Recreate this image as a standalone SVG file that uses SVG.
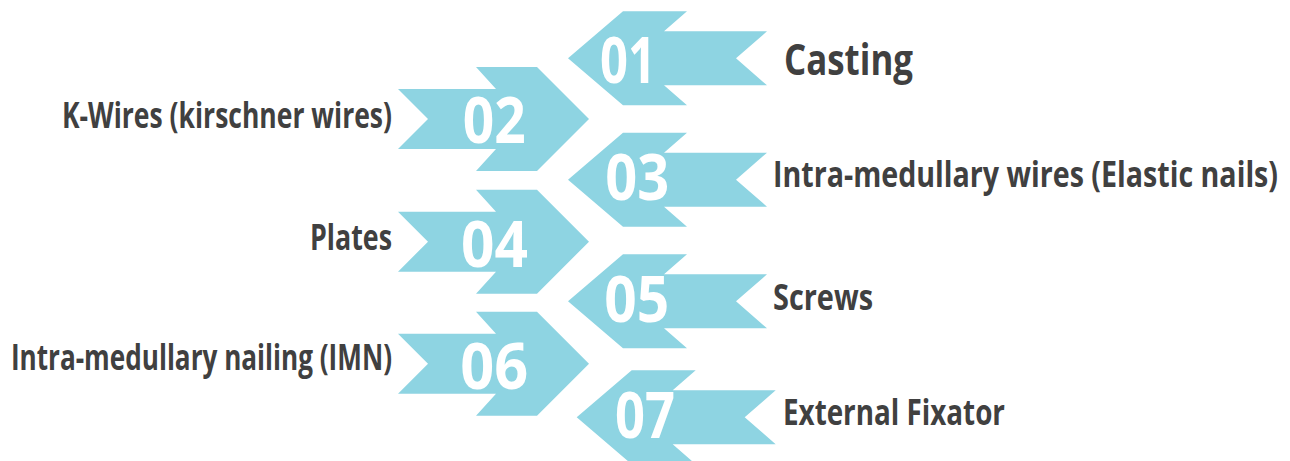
<svg xmlns="http://www.w3.org/2000/svg" width="1290" height="461" viewBox="0 0 1290 461">
  <style>
    .band { fill: #8ED4E2; }
    .num { font-family: "Open Sans", "Liberation Sans", sans-serif; font-weight: 700; font-size: 65px; fill: #FFFFFF; text-anchor: middle; }
    .label { font-family: "Open Sans", "Liberation Sans", sans-serif; font-weight: 700; font-size: 36px; fill: #404040; }
    .label.big { font-size: 43px; }
    .label.end { text-anchor: end; }
  </style>
  <defs>
    <!-- chevron pointing left, tip at origin -->
    <path id="arrow-left" d="M0,0 L55,-47 L119,-47 L96,-27 L199,-27 L168,0 L199,27 L96,27 L119,47 L55,47 Z"/>
    <!-- chevron pointing right, tip at origin -->
    <path id="arrow-right" d="M0,0 L-52,-52 L-113,-52 L-93,-30 L-191,-30 L-161,0 L-191,30 L-93,30 L-113,52 L-52,52 Z"/>
  </defs>

  <g id="connectors"/>

  <!-- texts are narrowed with a horizontal scale to get a condensed face -->
  <g id="step-01">
    <use href="#arrow-left" class="band" transform="translate(568,58.3)"/>
    <text class="num" transform="translate(628,83.3) scale(0.85,1)" textLength="65.9" lengthAdjust="spacingAndGlyphs">01</text>
    <text class="label big" transform="translate(784,75) scale(0.818,1)" textLength="157.7" lengthAdjust="spacingAndGlyphs">Casting</text>
  </g>

  <g id="step-02">
    <use href="#arrow-right" class="band" transform="translate(589,119)"/>
    <text class="num" transform="translate(494.3,143.3) scale(0.85,1)" textLength="74.1" lengthAdjust="spacingAndGlyphs">02</text>
    <text class="label end" transform="translate(392,127.5) scale(0.745,1)" textLength="443" lengthAdjust="spacingAndGlyphs">K-Wires (kirschner wires)</text>
  </g>

  <g id="step-03">
    <use href="#arrow-left" class="band" transform="translate(568,179.7)"/>
    <text class="num" transform="translate(637.2,200) scale(0.85,1)" textLength="75.3" lengthAdjust="spacingAndGlyphs">03</text>
    <text class="label" transform="translate(773,187) scale(0.81,1)" textLength="623.5" lengthAdjust="spacingAndGlyphs">Intra-medullary wires (Elastic nails)</text>
  </g>

  <g id="step-04">
    <use href="#arrow-right" class="band" transform="translate(589,241.7)"/>
    <text class="num" transform="translate(494.5,266.7) scale(0.85,1)" textLength="78.8" lengthAdjust="spacingAndGlyphs">04</text>
    <text class="label end" transform="translate(392,250) scale(0.763,1)" textLength="107.5" lengthAdjust="spacingAndGlyphs">Plates</text>
  </g>

  <g id="step-05">
    <use href="#arrow-left" class="band" transform="translate(568,301.3)"/>
    <text class="num" transform="translate(636.7,321.7) scale(0.85,1)" textLength="76.5" lengthAdjust="spacingAndGlyphs">05</text>
    <text class="label" transform="translate(773,310) scale(0.797,1)" textLength="125.5" lengthAdjust="spacingAndGlyphs">Screws</text>
  </g>

  <g id="step-06">
    <use href="#arrow-right" class="band" transform="translate(589,363.7)"/>
    <text class="num" transform="translate(494.2,389.3) scale(0.85,1)" textLength="80" lengthAdjust="spacingAndGlyphs">06</text>
    <text class="label end" transform="translate(392,370) scale(0.74,1)" textLength="515" lengthAdjust="spacingAndGlyphs">Intra-medullary nailing (IMN)</text>
  </g>

  <g id="step-07">
    <use href="#arrow-left" class="band" transform="translate(576.7,417.3)"/>
    <text class="num" transform="translate(645,438.3) scale(0.85,1)" textLength="70.6" lengthAdjust="spacingAndGlyphs">07</text>
    <text class="label" transform="translate(783,425) scale(0.794,1)" textLength="279.6" lengthAdjust="spacingAndGlyphs">External Fixator</text>
  </g>
</svg>
